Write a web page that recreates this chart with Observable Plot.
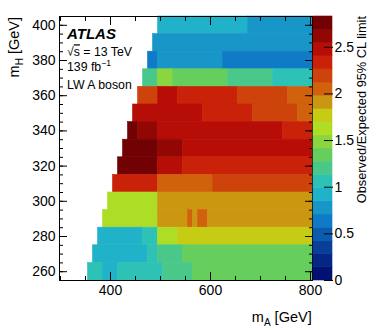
<!DOCTYPE html>
<html><head><meta charset="utf-8">
<script src="https://cdn.jsdelivr.net/npm/d3@7"></script>
<script src="https://cdn.jsdelivr.net/npm/@observablehq/plot@0.6"></script>
<style>
body{margin:0;background:#fff;}
#wrap{position:relative;width:390px;height:330px;overflow:hidden;}
#wrap svg{position:absolute;left:0;top:0;}
</style></head><body><div id="wrap"></div>
<script>
// m_H rows (GeV), top to bottom
const mH = [400, 390, 380, 370, 360, 350, 340, 330, 320, 310, 300, 290, 280, 270, 260];
// runs per row: [first m_A bin centre, last m_A bin centre, observed/expected limit]
const row400 = [[500, 670, 0.92], [680, 800, 0.78]];
const row390 = [[490, 800, 0.78]];
const row380 = [[480, 490, 0.64], [500, 620, 0.78], [630, 800, 0.64]];
const row370 = [[470, 490, 1.20], [500, 520, 1.49], [530, 630, 1.34], [640, 720, 1.20], [730, 800, 1.06]];
const row360 = [[460, 490, 2.19], [500, 530, 2.48], [540, 650, 2.33], [660, 750, 2.19], [760, 800, 2.05]];
const row350 = [[450, 580, 2.48], [590, 680, 2.33], [690, 770, 2.19], [780, 800, 2.05]];
const row340 = [[440, 450, 2.76], [460, 490, 2.62], [500, 740, 2.48], [750, 800, 2.33]];
const row330 = [[430, 490, 2.76], [500, 540, 2.62], [550, 800, 2.48]];
const row320 = [[420, 490, 2.76], [500, 540, 2.48], [550, 800, 2.33]];
const row310 = [[410, 490, 2.33], [500, 600, 2.05], [610, 800, 2.19]];
const row300 = [[400, 490, 1.63], [500, 800, 1.91]];
const row290 = [[390, 490, 1.63], [500, 550, 1.91], [560, 560, 2.05], [570, 570, 1.91], [580, 590, 2.05], [600, 800, 1.91]];
const row280 = [[380, 460, 0.92], [470, 490, 1.06], [500, 530, 1.63], [540, 800, 1.77]];
const row270 = [[370, 470, 0.92], [480, 490, 1.06], [500, 540, 1.20], [550, 800, 1.34]];
const row260 = [[360, 380, 1.06], [390, 410, 0.92], [420, 500, 1.06], [510, 560, 1.20], [570, 800, 1.34]];
const rows = [row400, row390, row380, row370, row360, row350, row340, row330, row320, row310, row300, row290, row280, row270, row260];
const binWidth = 10;

const xTicks = [400, 600, 800];
const xMinor = [300, 350, 400, 450, 500, 550, 600, 650, 700, 750, 800];
const yTicks = [260, 280, 300, 320, 340, 360, 380, 400];
const yMinor = d3.range(255, 406, 5);
const zTicks = [0, 0.5, 1, 1.5, 2, 2.5];
const zMax = 2.83;
const nLevels = 20;

// ROOT kRainBow palette stops
const pStops = [0, 0.125, 0.25, 0.375, 0.5, 0.625, 0.75, 0.875, 1];
const pRed = [0, 5, 15, 35, 102, 196, 208, 199, 110];
const pGreen = [0, 48, 124, 192, 206, 226, 97, 16, 0];
const pBlue = [99, 142, 198, 201, 90, 22, 13, 8, 2];
function palette(f) {
  f = Math.max(0, Math.min(1, f));
  let k = 1; while (k < pStops.length - 1 && f > pStops[k]) k++;
  const t = (f - pStops[k - 1]) / (pStops[k] - pStops[k - 1]);
  const c = a => Math.round(a[k - 1] + (a[k] - a[k - 1]) * t);
  return `rgb(${c(pRed)},${c(pGreen)},${c(pBlue)})`;
}
const levelColors = d3.range(nLevels).map(i => palette(Math.floor((i + 0.99) * 255 / nLevels) / 255));
const thresholds = d3.range(1, nLevels).map(i => i * zMax / nLevels);
const color = {type: "threshold", domain: thresholds, range: levelColors};

const cells = [];
rows.forEach((r, i) => r.forEach(([a, b, v]) => cells.push({a, b, h: mH[i], v})));

const font = "'Liberation Sans', Arial, Helvetica, sans-serif";
const W = 390, H = 330;
const main = Plot.plot({
  width: W, height: H, marginLeft: 59, marginRight: 78, marginTop: 16, marginBottom: 50,
  style: {fontFamily: font, fontSize: "14px", color: "black", background: "transparent"},
  x: {domain: [298, 804]},
  y: {domain: [255, 405]},
  color,
  marks: [
    Plot.rect(cells, {x1: d => d.a - binWidth / 2, x2: d => d.b + binWidth / 2, y1: d => d.h - binWidth / 2, y2: d => d.h + binWidth / 2, fill: "v", stroke: "v", strokeWidth: 0.6}),
    Plot.axisX(xTicks, {anchor: "bottom", tickSize: 0, tickPadding: 5, label: null}),
    Plot.axisX(xTicks, {anchor: "bottom", tickSize: 8, dy: -8, text: null, label: null}),
    Plot.axisX(xMinor, {anchor: "bottom", tickSize: 4, dy: -4, text: null, label: null}),
    Plot.axisX(xTicks, {anchor: "top", tickSize: 8, dy: 8, text: null, label: null}),
    Plot.axisX(xMinor, {anchor: "top", tickSize: 4, dy: 4, text: null, label: null}),
    Plot.axisY(yTicks, {anchor: "left", tickSize: 0, tickPadding: 4, label: null}),
    Plot.axisY(yTicks, {anchor: "left", tickSize: 8, dx: 8, text: null, label: null}),
    Plot.axisY(yMinor, {anchor: "left", tickSize: 4, dx: 4, text: null, label: null}),
    Plot.axisY(yTicks, {anchor: "right", tickSize: 8, dx: -8, text: null, label: null}),
    Plot.axisY(yMinor, {anchor: "right", tickSize: 4, dx: -4, text: null, label: null}),
    Plot.frame({stroke: "black"})
  ]
});

const bands = d3.range(nLevels).map(i => ({lo: i * zMax / nLevels, hi: (i + 1) * zMax / nLevels}));
const bar = Plot.plot({
  width: W, height: H, marginLeft: 313, marginRight: 58, marginTop: 16, marginBottom: 50,
  style: {fontFamily: font, fontSize: "14px", color: "black", background: "transparent"},
  x: {domain: [0, 1], axis: null},
  y: {domain: [0, zMax]},
  color,
  marks: [
    Plot.rect(bands, {x1: 0, x2: 1, y1: "lo", y2: "hi", fill: d => (d.lo + d.hi) / 2, stroke: d => (d.lo + d.hi) / 2, strokeWidth: 0.6}),
    Plot.axisY(zTicks, {anchor: "right", tickSize: 9, dx: -9, text: null, label: null}),
    Plot.axisY(zTicks, {anchor: "right", tickSize: 0, tickPadding: 2, tickFormat: d => String(d), label: null})
  ]
});

const wrap = document.getElementById("wrap");
wrap.appendChild(main);
wrap.appendChild(bar);

const svg = d3.select(main);
const g = svg.append("g").attr("font-family", font).attr("fill", "black").attr("text-anchor", "start");
g.append("text").attr("x", 67).attr("y", 38.7).attr("font-size", 15).attr("font-weight", "bold").attr("font-style", "italic").text("ATLAS");
const s1 = g.append("text").attr("x", 67).attr("y", 56.3).attr("font-size", 12.3);
s1.append("tspan").text("√");
s1.append("tspan").attr("text-decoration", "overline").text("s");
s1.append("tspan").text(" = 13 TeV");
const s2 = g.append("text").attr("x", 67).attr("y", 71).attr("font-size", 12.3);
s2.append("tspan").text("139 fb");
s2.append("tspan").attr("dy", -5).attr("font-size", 8.6).text("−1");
g.append("text").attr("x", 67).attr("y", 89.3).attr("font-size", 12.3).text("LW A boson");

const yt = g.append("text").attr("transform", "translate(19,17) rotate(-90)").attr("text-anchor", "end").attr("font-size", 14.5);
yt.append("tspan").text("m");
yt.append("tspan").attr("dy", 4).attr("font-size", 10).text("H");
yt.append("tspan").attr("dy", -4).text(" [GeV]");

const xt = g.append("text").attr("x", 311.7).attr("y", 322).attr("text-anchor", "end").attr("font-size", 14.5);
xt.append("tspan").text("m");
xt.append("tspan").attr("dy", 4).attr("font-size", 10).text("A");
xt.append("tspan").attr("dy", -4).text(" [GeV]");

d3.select(bar).append("text").attr("transform", "translate(366,16) rotate(-90)").attr("text-anchor", "end")
  .attr("font-family", font).attr("font-size", 12.8).attr("fill", "black").text("Observed/Expected 95% CL limit");
</script></body></html>
